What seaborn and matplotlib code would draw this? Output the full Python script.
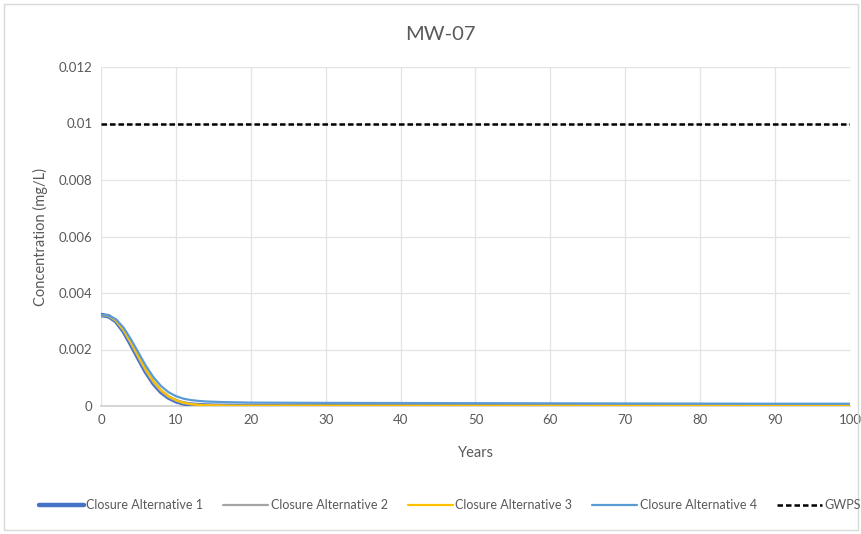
import numpy as np
import pandas as pd
import matplotlib
matplotlib.use("Agg")
import matplotlib.pyplot as plt
import seaborn as sns
from matplotlib.ticker import FuncFormatter, MultipleLocator
from matplotlib.patches import Rectangle

years = [0, 1, 2, 3, 4, 5, 6, 7, 8, 9, 10, 11, 12, 13, 14, 15, 16, 17, 18, 19, 20,
         30, 40, 50, 60, 70, 80, 90, 100]
alt1 = [0.00322, 0.00318, 0.00300, 0.00265, 0.00218, 0.00168, 0.00120, 0.00080, 0.00050,
        0.00030, 0.00017, 0.00009, 0.00005, 0.00003, 0.00002, 0.00001, 0.000006, 0.000004,
        0.000003, 0.000002, 0.000002, 0.000001, 0.000001, 0.0, 0.0, 0.0, 0.0, 0.0, 0.0]
alt2 = [0.00322, 0.00318, 0.00301, 0.00267, 0.00221, 0.00171, 0.00123, 0.00083, 0.00053,
        0.00032, 0.00019, 0.00010, 0.00006, 0.00004, 0.00003, 0.00002, 0.00001, 0.00001,
        0.00001, 0.00001, 0.00001, 0.00001, 0.00001, 0.00001, 0.00001, 0.00001, 0.00001, 0.00001, 0.00001]
alt3 = [0.00322, 0.00319, 0.00303, 0.00270, 0.00225, 0.00176, 0.00128, 0.00088, 0.00057,
        0.00035, 0.00021, 0.00012, 0.00007, 0.00004, 0.00003, 0.00002, 0.00002, 0.00001,
        0.00001, 0.00001, 0.00001, 0.00001, 0.00001, 0.00001, 0.00001, 0.00001, 0.00001, 0.00001, 0.00001]
alt4 = [0.00322, 0.00320, 0.00307, 0.00278, 0.00236, 0.00189, 0.00142, 0.00102, 0.00071,
        0.00049, 0.00035, 0.00026, 0.00021, 0.00018, 0.00016, 0.00015, 0.00014, 0.000135,
        0.00013, 0.000125, 0.00012, 0.00011, 0.000105, 0.0001, 0.000095, 0.00009, 0.000085,
        0.00008, 0.00008]
gwps_years = [0, 100]
gwps = [0.01, 0.01]

series_names = ["Closure Alternative 1", "Closure Alternative 2",
                "Closure Alternative 3", "Closure Alternative 4"]
colors = ["#4472C4", "#A5A5A5", "#FFC000", "#5B9BD5"]
widths = [3.2, 1.6, 1.6, 1.6]

frames = []
for name, vals in zip(series_names, [alt1, alt2, alt3, alt4]):
    frames.append(pd.DataFrame({"Years": years, "Concentration": vals, "Series": name}))
df = pd.concat(frames, ignore_index=True)
gdf = pd.DataFrame({"Years": gwps_years, "Concentration": gwps, "Series": "GWPS"})

sns.set_theme(style="white")
plt.rcParams['font.family'] = ['Lato', 'DejaVu Sans']

fig = plt.figure(figsize=(8.62, 5.34), dpi=100)
ax = fig.add_axes([101/862, 1-406/534, (850-101)/862, (406-67)/534])

for name, c, w in zip(series_names, colors, widths):
    sns.lineplot(data=df[df["Series"] == name], x="Years", y="Concentration", ax=ax,
                 color=c, linewidth=w, label=name, zorder=3)
sns.lineplot(data=gdf, x="Years", y="Concentration", ax=ax, color="black",
             linewidth=1.8, linestyle=(0, (2.2, 1.2)), label="GWPS", zorder=3)

ax.set_xlim(0, 100)
ax.set_ylim(0, 0.012)
ax.xaxis.set_major_locator(MultipleLocator(10))
ax.yaxis.set_major_locator(MultipleLocator(0.002))
ax.yaxis.set_major_formatter(FuncFormatter(lambda v, p: "0" if abs(v) < 1e-12 else f"{v:.3f}".rstrip("0")))
ax.grid(True, color="#E3E3E3", linewidth=0.9)
for s in ["top", "right", "left"]:
    ax.spines[s].set_visible(False)
ax.spines["bottom"].set_color("#D0D0D0")
ax.tick_params(axis="both", colors="#595959", labelsize=9.5, length=0, pad=6)
ax.set_xlabel("Years", color="#595959", fontsize=10.5, labelpad=14)
ax.set_ylabel("Concentration (mg/L)", color="#595959", fontsize=10.5, labelpad=8)
fig.text(440/862, 1-35/534, "MW-07", color="#595959", fontsize=14.5, ha="center", va="center")

handles, labels = ax.get_legend_handles_labels()
leg = fig.legend(handles, labels, loc="center", bbox_to_anchor=(450/862, 1-505/534),
                 ncol=5, frameon=False, fontsize=9, handlelength=3.6, columnspacing=1.6,
                 handletextpad=0.2)
for t in leg.get_texts():
    t.set_color("#595959")
ax.get_legend().remove()

fig.patches.append(Rectangle((4/862, 4/534), 854/862, 526/534, transform=fig.transFigure,
                             fill=False, edgecolor="#D9D9D9", linewidth=1))
fig.savefig("out.png", dpi=100)
